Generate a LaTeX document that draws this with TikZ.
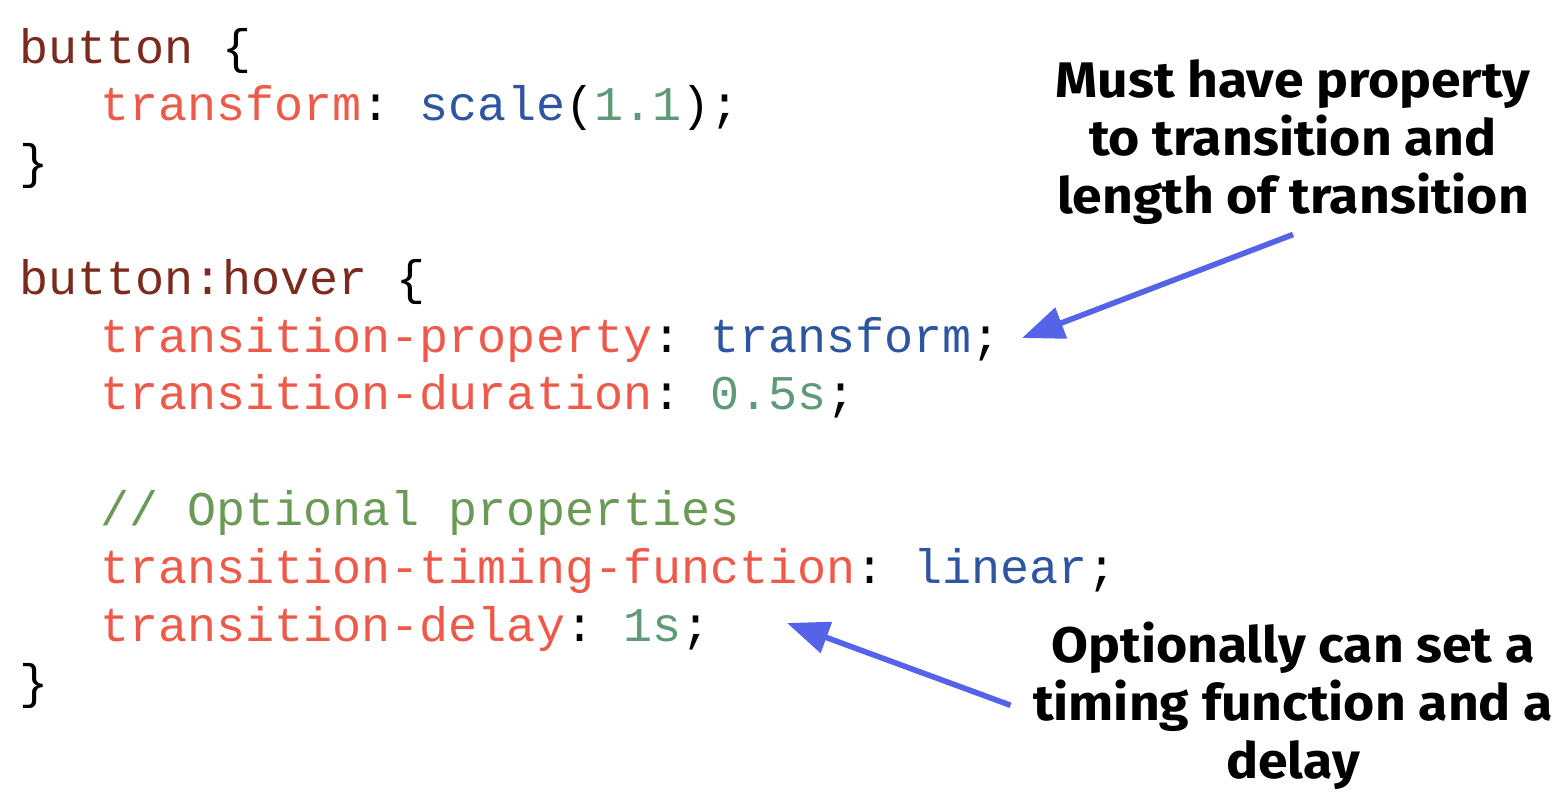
\documentclass[tikz,border=0pt]{standalone}
\usepackage{fontspec}
\setmainfont{Fira Sans}
\setmonofont{Liberation Mono}
\newfontfamily\notefont[FakeStretch=1.07]{Fira Sans}
\usetikzlibrary{arrows.meta}
\usetikzlibrary{positioning}
\definecolor{selred}{HTML}{7B2A1E}
\definecolor{propred}{HTML}{EE5A4A}
\definecolor{valblue}{HTML}{2E56A0}
\definecolor{numgreen}{HTML}{5E9A78}
\definecolor{comgreen}{HTML}{6A9A55}
\definecolor{arrowblue}{HTML}{5563E8}
\newcommand{\csssel}[1]{\textcolor{selred}{#1}}
\newcommand{\cssprop}[1]{\textcolor{propred}{#1}}
\newcommand{\cssval}[1]{\textcolor{valblue}{#1}}
\newcommand{\cssnum}[1]{\textcolor{numgreen}{#1}}
\newcommand{\csscom}[1]{\textcolor{comgreen}{#1}}
\tikzstyle{codeline}=[anchor=base west,inner sep=0pt,font=\ttfamily\fontsize{24.2}{29}\selectfont]
\tikzstyle{note}=[anchor=base,align=center,inner sep=5pt,font=\notefont\bfseries\fontsize{25}{29}\selectfont]
\tikzstyle{pointer}=[-{Triangle[length=21pt,width=16pt]},arrowblue,line width=2.8pt]

\begin{document}
\begin{tikzpicture}[x=0.5pt,y=-0.5pt]
\useasboundingbox (0,0) rectangle (1566,800);

%code
  \foreach \name/\row/\indent/\code in {
      {sel/0/19/{\csssel{button} \{}},
      {scale/1/100/{\cssprop{transform}: \cssval{scale}(\cssnum{1.1});}},
      {close/2/19/{\}}},
      {hover/4/19/{\csssel{button:hover} \{}},
      {prop/5/100/{\cssprop{transition-property}: \cssval{transform};}},
      {dur/6/100/{\cssprop{transition-duration}: \cssnum{0.5s};}},
      {com/8/100/{\csscom{// Optional properties}}},
      {timing/9/100/{\cssprop{transition-timing-function}: \cssval{linear};}},
      {delay/10/100/{\cssprop{transition-delay}: \cssnum{1s};}},
      {hoverclose/11/19/{\}}}}
    \node[codeline] (\name) at (\indent, 63+57.8*\row) {\code};

%notes
\node[note] (mustnote) at (1293, 213) {Must have property\\to transition and\\length of transition};
\node[note, inner xsep=11pt] (optnote) at (1293, 778) {Optionally can set a\\timing function and a\\delay};

%arrows
\coordinate (proptip) at (1022, 338);
\coordinate (delaytip) at (787, 623);
\draw[pointer] (mustnote.south) -- (proptip);
\draw[pointer] (optnote.west) -- (delaytip);

\end{tikzpicture}
\end{document}
